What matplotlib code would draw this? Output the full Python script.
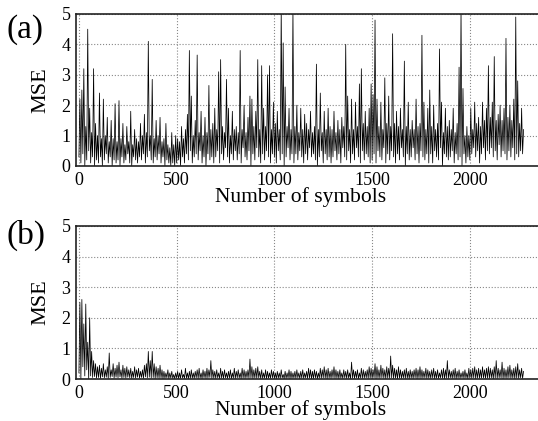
import numpy as np
import matplotlib
matplotlib.use("Agg")
import matplotlib.pyplot as plt

plt.rcParams['font.family'] = ['Liberation Serif', 'DejaVu Serif']

# ---- data: MSE per 10-symbol bin (upper and lower envelope) ----
bin_step = 10
mse_a_hi = [
    2.2, 2.5, 3.2, 1.3, 4.5, 1.9, 1.1, 3.2, 1.4, 1.0,
    2.4, 0.9, 2.2, 1.0, 1.6, 0.8, 1.5, 0.9, 2.05, 0.8,
    2.15, 0.9, 1.4, 0.7, 1.3, 0.8, 1.8, 0.7, 1.2, 0.9,
    0.8, 1.4, 1.0, 1.7, 1.1, 4.1, 1.0, 2.85, 0.9, 1.5,
    1.0, 1.6, 0.8, 0.9, 1.4, 0.7, 0.6, 1.1, 0.7, 1.0,
    0.9, 0.8, 1.3, 0.9, 1.2, 1.7, 3.8, 2.3, 1.0, 1.5,
    3.65, 1.1, 1.8, 1.0, 1.6, 1.1, 2.65, 1.2, 1.4, 1.9,
    1.2, 3.1, 3.5, 1.3, 1.1, 2.85, 1.9, 1.0, 1.8, 1.2,
    1.3, 1.1, 3.8, 1.2, 2.0, 1.1, 1.6, 2.3, 2.2, 1.3,
    1.8, 3.5, 1.2, 3.3, 1.9, 1.3, 3.0, 3.3, 1.2, 2.1,
    1.4, 1.8, 1.2, 5.2, 4.05, 2.6, 1.3, 1.9, 1.2, 5.2,
    1.3, 2.0, 1.1, 1.9, 1.2, 1.7, 1.4, 1.2, 1.8, 1.1,
    1.3, 3.35, 1.2, 2.4, 1.1, 1.8, 1.2, 1.9, 1.3, 1.2,
    1.8, 1.1, 1.5, 1.2, 1.6, 1.3, 4.0, 2.3, 1.2, 2.2,
    1.2, 2.1, 1.3, 2.7, 3.2, 1.4, 1.8, 1.3, 1.9, 2.7,
    2.35, 4.8, 2.2, 1.3, 2.1, 1.2, 2.9, 1.4, 2.3, 1.3,
    4.35, 1.4, 1.8, 1.3, 1.9, 1.2, 3.45, 1.3, 2.1, 1.2,
    1.5, 1.2, 2.2, 1.3, 1.4, 4.3, 2.1, 1.2, 1.9, 2.5,
    1.3, 2.0, 1.2, 1.4, 3.85, 2.1, 1.1, 1.9, 1.3, 1.5,
    1.2, 1.9, 1.1, 1.4, 3.25, 5.2, 2.55, 1.0, 1.3, 1.0,
    1.9, 1.2, 2.1, 1.4, 1.6, 1.3, 2.1, 1.5, 1.9, 3.3,
    1.6, 2.1, 3.6, 1.5, 1.7, 2.0, 1.5, 1.9, 4.2, 1.6,
    2.0, 1.5, 2.2, 4.9, 2.8, 1.4, 1.9, 1.2,
]
mse_a_lo = [
    0.3, 0.1, 0.4, 0.0, 0.2, 0.5, 0.1, 0.3, 0.0, 0.2,
    0.1, 0.3, 0.0, 0.2, 0.4, 0.1, 0.3, 0.0, 0.2, 0.1,
    0.2, 0.0, 0.3, 0.1, 0.2, 0.4, 0.1, 0.0, 0.3, 0.2,
    0.1, 0.3, 0.2, 0.4, 0.1, 0.3, 0.5, 0.2, 0.1, 0.3,
    0.2, 0.4, 0.1, 0.3, 0.0, 0.2, 0.1, 0.0, 0.1, 0.0,
    0.1, 0.2, 0.0, 0.3, 0.1, 0.4, 0.2, 0.5, 0.1, 0.3,
    0.4, 0.2, 0.5, 0.1, 0.3, 0.0, 0.4, 0.2, 0.3, 0.1,
    0.3, 0.5, 0.1, 0.4, 0.2, 0.6, 0.3, 0.1, 0.4, 0.2,
    0.5, 0.2, 0.4, 0.1, 0.6, 0.3, 0.2, 0.5, 0.0, 0.4,
    0.2, 0.6, 0.3, 0.1, 0.4, 0.2, 0.5, 0.3, 0.1, 0.4,
    0.3, 0.1, 0.5, 0.2, 0.4, 0.0, 0.3, 0.6, 0.2, 0.4,
    0.1, 0.4, 0.2, 0.5, 0.3, 0.1, 0.4, 0.2, 0.6, 0.3,
    0.4, 0.2, 0.0, 0.3, 0.5, 0.1, 0.4, 0.2, 0.3, 0.1,
    0.3, 0.5, 0.2, 0.4, 0.1, 0.6, 0.3, 0.2, 0.5, 0.1,
    0.4, 0.2, 0.6, 0.3, 0.1, 0.5, 0.2, 0.4, 0.3, 0.1,
    0.2, 0.4, 0.1, 0.5, 0.3, 0.2, 0.6, 0.1, 0.4, 0.2,
    0.5, 0.3, 0.1, 0.4, 0.2, 0.6, 0.3, 0.0, 0.4, 0.2,
    0.3, 0.6, 0.2, 0.4, 0.1, 0.5, 0.3, 0.2, 0.4, 0.1,
    0.4, 0.1, 0.5, 0.3, 0.2, 0.6, 0.0, 0.4, 0.3, 0.2,
    0.3, 0.5, 0.1, 0.4, 0.2, 0.3, 0.0, 0.4, 0.1, 0.3,
    0.2, 0.4, 0.6, 0.3, 0.5, 0.1, 0.4, 0.6, 0.2, 0.5,
    0.4, 0.6, 0.3, 0.5, 0.2, 0.7, 0.3, 0.5, 0.4, 0.2,
    0.5, 0.3, 0.6, 0.2, 0.4, 0.3, 0.5, 0.4,
]
mse_b_hi = [
    2.5, 2.6, 1.8, 2.45, 1.2, 2.0, 0.9, 0.6, 0.5, 0.4,
    0.45, 0.35, 0.5, 0.3, 0.4, 0.85, 0.3, 0.5, 0.35, 0.45,
    0.55, 0.3, 0.45, 0.35, 0.4, 0.3, 0.35, 0.25, 0.4, 0.3,
    0.35, 0.25, 0.3, 0.45, 0.5, 0.9, 0.6, 0.9, 0.5, 0.4,
    0.35, 0.45, 0.3, 0.25, 0.2, 0.3, 0.2, 0.25, 0.15, 0.2,
    0.25, 0.2, 0.3, 0.15, 0.35, 0.2, 0.25, 0.3, 0.2, 0.25,
    0.3, 0.35, 0.2, 0.3, 0.25, 0.35, 0.3, 0.6, 0.3, 0.25,
    0.3, 0.2, 0.35, 0.25, 0.3, 0.2, 0.25, 0.3, 0.2, 0.35,
    0.25, 0.3, 0.2, 0.35, 0.3, 0.25, 0.3, 0.65, 0.4, 0.3,
    0.35, 0.4, 0.25, 0.3, 0.2, 0.3, 0.25, 0.2, 0.3, 0.25,
    0.2, 0.25, 0.2, 0.3, 0.15, 0.25, 0.2, 0.3, 0.25, 0.2,
    0.25, 0.3, 0.2, 0.25, 0.3, 0.2, 0.25, 0.35, 0.3, 0.25,
    0.3, 0.25, 0.2, 0.35, 0.3, 0.4, 0.3, 0.35, 0.25, 0.3,
    0.4, 0.3, 0.25, 0.3, 0.2, 0.3, 0.25, 0.3, 0.2, 0.55,
    0.3, 0.25, 0.3, 0.2, 0.35, 0.3, 0.25, 0.3, 0.4, 0.35,
    0.3, 0.5, 0.4, 0.3, 0.45, 0.35, 0.3, 0.4, 0.35, 0.75,
    0.45, 0.35, 0.3, 0.4, 0.3, 0.25, 0.3, 0.35, 0.25, 0.3,
    0.25, 0.3, 0.35, 0.3, 0.4, 0.3, 0.25, 0.35, 0.3, 0.25,
    0.3, 0.35, 0.25, 0.3, 0.2, 0.3, 0.35, 0.3, 0.6, 0.3,
    0.25, 0.3, 0.35, 0.25, 0.3, 0.2, 0.25, 0.3, 0.2, 0.35,
    0.3, 0.35, 0.4, 0.3, 0.35, 0.3, 0.4, 0.3, 0.35, 0.4,
    0.35, 0.3, 0.4, 0.6, 0.35, 0.3, 0.55, 0.35, 0.3, 0.4,
    0.45, 0.3, 0.35, 0.4, 0.5, 0.3, 0.35, 0.25,
]
mse_b_lo = [
    0.2, 0.0, 0.4, 0.1, 0.3, 0.0, 0.1, 0.05, 0.08, 0.03,
    0.05, 0.02, 0.07, 0.04, 0.06, 0.02, 0.05, 0.08, 0.03, 0.06,
    0.04, 0.07, 0.02, 0.05, 0.03, 0.06, 0.04, 0.02, 0.05, 0.03,
    0.06, 0.03, 0.05, 0.02, 0.07, 0.04, 0.06, 0.03, 0.05, 0.02,
    0.04, 0.02, 0.03, 0.01, 0.02, 0.04, 0.01, 0.03, 0.02, 0.01,
    0.03, 0.01, 0.02, 0.04, 0.02, 0.03, 0.01, 0.02, 0.03, 0.02,
    0.04, 0.02, 0.03, 0.01, 0.04, 0.02, 0.03, 0.05, 0.02, 0.03,
    0.02, 0.04, 0.01, 0.03, 0.02, 0.04, 0.02, 0.03, 0.01, 0.03,
    0.02, 0.04, 0.03, 0.01, 0.03, 0.02, 0.04, 0.02, 0.03, 0.01,
    0.03, 0.02, 0.04, 0.01, 0.02, 0.03, 0.01, 0.03, 0.02, 0.04,
    0.02, 0.01, 0.03, 0.02, 0.04, 0.01, 0.02, 0.03, 0.01, 0.02,
    0.03, 0.02, 0.04, 0.01, 0.03, 0.02, 0.04, 0.02, 0.03, 0.01,
    0.02, 0.04, 0.01, 0.03, 0.02, 0.04, 0.03, 0.01, 0.03, 0.02,
    0.04, 0.02, 0.03, 0.01, 0.03, 0.02, 0.04, 0.02, 0.03, 0.01,
    0.03, 0.02, 0.04, 0.01, 0.03, 0.02, 0.03, 0.04, 0.02, 0.03,
    0.02, 0.04, 0.01, 0.03, 0.02, 0.04, 0.03, 0.01, 0.03, 0.02,
    0.04, 0.02, 0.03, 0.01, 0.03, 0.02, 0.04, 0.02, 0.03, 0.01,
    0.03, 0.02, 0.04, 0.01, 0.03, 0.02, 0.03, 0.04, 0.02, 0.03,
    0.02, 0.04, 0.01, 0.03, 0.02, 0.04, 0.03, 0.01, 0.03, 0.02,
    0.04, 0.02, 0.03, 0.01, 0.03, 0.02, 0.04, 0.02, 0.03, 0.01,
    0.03, 0.02, 0.04, 0.01, 0.03, 0.02, 0.03, 0.04, 0.02, 0.03,
    0.02, 0.04, 0.01, 0.03, 0.02, 0.04, 0.03, 0.01, 0.03, 0.02,
    0.04, 0.02, 0.03, 0.01, 0.03, 0.02, 0.04, 0.02,
]
x_ticks = [0, 500, 1000, 1500, 2000]
y_ticks = [0, 1, 2, 3, 4, 5]
panel_labels = ["(a)", "(b)"]
x_label = "Number of symbols"
y_label = "MSE"


def interleave(lo, hi, step):
    lo = np.asarray(lo, float)
    hi = np.asarray(hi, float)
    n = len(lo)
    xs = np.empty(2 * n)
    ys = np.empty(2 * n)
    base = np.arange(n) * step
    xs[0::2] = base
    xs[1::2] = base + step / 2
    ys[0::2] = lo
    ys[1::2] = hi
    return xs, ys


W, H = 538, 421
fig = plt.figure(figsize=(W / 100, H / 100), dpi=100)

def px_axes(left, top, right, bottom):
    return fig.add_axes([left / W, 1 - bottom / H, (right - left) / W, (bottom - top) / H])

axes = [px_axes(76, 14, 548, 166), px_axes(76, 226, 548, 379)]
series = [(mse_a_lo, mse_a_hi), (mse_b_lo, mse_b_hi)]
label_y = [30, 235]

for ax, (lo, hi), lab, ly in zip(axes, series, panel_labels, label_y):
    xs, ys = interleave(lo, hi, bin_step)
    ax.plot(xs, ys, color='black', lw=0.55)
    ax.set_xlim(-15, 2400)
    ax.set_ylim(0, 5)
    ax.set_xticks(x_ticks)
    ax.set_yticks(y_ticks)
    ax.grid(True, linestyle=':', color='#888888', lw=0.8)
    ax.tick_params(length=0, labelsize=13, pad=4)
    for s in ax.spines.values():
        s.set_color('#222222')
        s.set_linewidth(1.2)
    ax.set_xlabel(x_label, fontsize=15.5, labelpad=0)
    ax.xaxis.set_label_coords((301 - 76) / 472, -0.14)
    ax.set_ylabel(y_label, fontsize=16, labelpad=8)
    fig.text(7 / W, 1 - ly / H, lab, fontsize=24, va='center', ha='left')

fig.savefig("out.png", dpi=100)
